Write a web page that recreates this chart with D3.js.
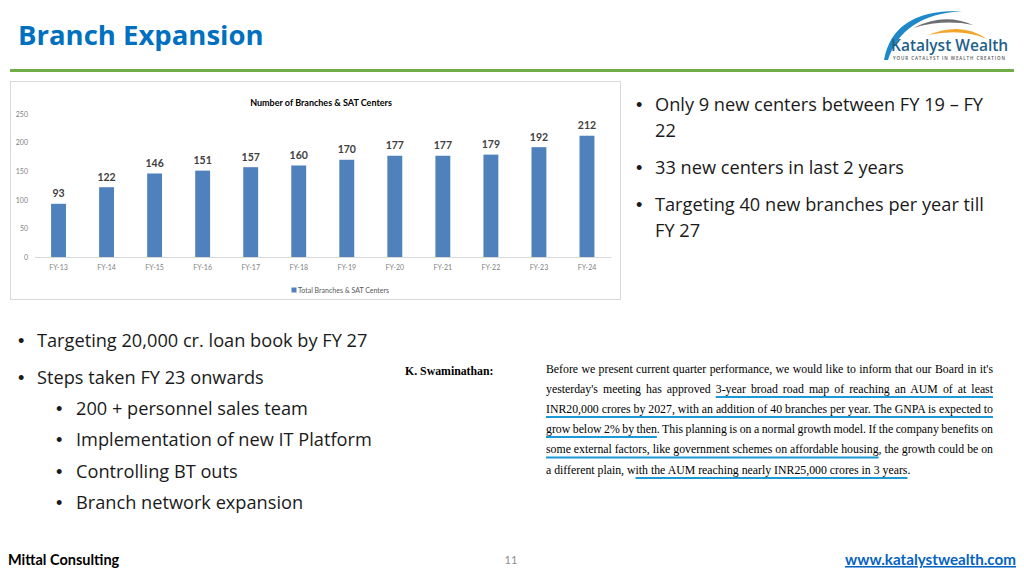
<!DOCTYPE html>
<html>
<head>
<meta charset="utf-8">
<script src="https://cdn.jsdelivr.net/npm/d3@7/dist/d3.min.js"></script>
<style>
  html, body { margin: 0; padding: 0; background: #fff; }
  svg { display: block; }
</style>
</head>
<body>
<svg id="slide" width="1024" height="575"></svg>
<script>
// ---------- data ----------
const categories = ["FY-13","FY-14","FY-15","FY-16","FY-17","FY-18","FY-19","FY-20","FY-21","FY-22","FY-23","FY-24"];
const branchValues = [93,122,146,151,157,160,170,177,177,179,192,212];
const yTicks = [0,50,100,150,200,250];
const chartTitle = "Number of Branches & SAT Centers";
const legendLabel = "Total Branches & SAT Centers";
const slideTitle = "Branch Expansion";
const rightBullets = [["Only 9 new centers between FY 19 \u2013 FY","22"],["33 new centers in last 2 years"],["Targeting 40 new branches per year till","FY 27"]];
const leftBullets = ["Targeting 20,000 cr. loan book by FY 27","Steps taken FY 23 onwards"];
const subBullets = ["200 + personnel sales team","Implementation of new IT Platform","Controlling BT outs","Branch network expansion"];
const quoteSpeaker = "K. Swaminathan:";
const quoteLines = [
  "Before we present current quarter performance, we would like to inform that our Board in it's",
  "yesterday's meeting has approved 3-year broad road map of reaching an AUM of at least",
  "INR20,000 crores by 2027, with an addition of 40 branches per year. The GNPA is expected to",
  "grow below 2% by then. This planning is on a normal growth model. If the company benefits on",
  "some external factors, like government schemes on affordable housing, the growth could be on",
  "a different plain, with the AUM reaching nearly INR25,000 crores in 3 years."
];
const quoteUnderlines = [
  [1, "3-year broad road map of reaching an AUM of at least"],
  [2, "INR20,000 crores by 2027, with an addition of 40 branches per year. The GNPA is expected to"],
  [3, "grow below 2% by then"],
  [4, "some external factors, like government schemes on affordable housing"],
  [5, "ith the AUM reaching nearly INR25,000 crores in 3 years"]
];

const svg = d3.select("#slide");
const sans = "'Open Sans', 'Noto Sans', sans-serif";
const calib = "Lato, 'Open Sans', sans-serif";
const serif = "'Liberation Serif', 'DejaVu Serif', serif";

// ---------- header ----------
svg.append("text").attr("x", 18).attr("y", 45)
  .attr("font-family", sans).attr("font-weight", 700).attr("font-size", 27.5)
  .attr("fill", "#0070C0").text(slideTitle);
svg.append("line").attr("x1", 10).attr("x2", 1014).attr("y1", 70.5).attr("y2", 70.5)
  .attr("stroke", "#70AD47").attr("stroke-width", 3);

// logo
const logo = svg.append("g");
logo.append("path").attr("d", "M884,60 Q893,9 962,11 Q902,15 888,60 Z").attr("fill", "#1E88C8");
logo.append("path").attr("d", "M913,28 Q944,12 973,25 Q944,19 913,28 Z").attr("fill", "#6D6E71");
logo.append("path").attr("d", "M928,35 Q962,21 987,39 Q962,28 928,35 Z").attr("fill", "#F2A52B");
logo.append("text").attr("x", 891).attr("y", 51)
  .attr("font-family", sans).attr("font-weight", 600).attr("font-size", 15.5)
  .attr("fill", "#1F5F8B").text("Katalyst Wealth");
logo.append("text").attr("x", 893).attr("y", 60)
  .attr("font-family", sans).attr("font-weight", 600).attr("font-size", 4.5)
  .attr("textLength", 112).attr("lengthAdjust", "spacing")
  .attr("fill", "#555").text("YOUR CATALYST IN WEALTH CREATION");

// ---------- chart ----------
svg.append("rect").attr("x", 10.5).attr("y", 81.5).attr("width", 610).attr("height", 218)
  .attr("fill", "#fff").attr("stroke", "#D9D9D9");

const x = d3.scaleBand().domain(categories).range([34.5, 611]).paddingInner(0.69).paddingOuter(0.345);
const y = d3.scaleLinear().domain([0, 250]).range([257, 114]);

svg.append("text").attr("x", 321).attr("y", 105.5).attr("text-anchor", "middle")
  .attr("font-family", calib).attr("font-weight", 700).attr("font-size", 9)
  .attr("fill", "#000").text(chartTitle);

const yAxis = svg.append("g").attr("transform", "translate(31,0)")
  .call(d3.axisLeft(y).tickValues(yTicks).tickSize(0).tickPadding(3));
yAxis.select(".domain").remove();
yAxis.selectAll("text").attr("font-family", calib).attr("font-size", 7).attr("fill", "#7F7F7F");

const xAxis = svg.append("g").attr("transform", "translate(0,257)")
  .call(d3.axisBottom(x).tickSize(0).tickPadding(8));
xAxis.select(".domain").attr("stroke", "#D9D9D9");
xAxis.selectAll("text").attr("font-family", calib).attr("font-size", 7).attr("fill", "#7F7F7F");

svg.append("g").selectAll("rect").data(branchValues).join("rect")
  .attr("x", (d, i) => x(categories[i])).attr("width", x.bandwidth())
  .attr("y", d => y(d)).attr("height", d => y(0) - y(d))
  .attr("fill", "#4F81BD");

svg.append("g").selectAll("text").data(branchValues).join("text")
  .attr("x", (d, i) => x(categories[i]) + x.bandwidth() / 2)
  .attr("y", d => y(d) - 6.5).attr("text-anchor", "middle")
  .attr("font-family", calib).attr("font-weight", 700).attr("font-size", 10.5)
  .attr("fill", "#404040").text(d => d);

svg.append("rect").attr("x", 291.5).attr("y", 287.5).attr("width", 5).attr("height", 5).attr("fill", "#4F81BD");
svg.append("text").attr("x", 298).attr("y", 292.5)
  .attr("font-family", calib).attr("font-size", 7).attr("fill", "#595959").text(legendLabel);

// ---------- bullets ----------
const bulletSize = 18.2;
function bullet(bx, tx, yc, lines, lineGap) {
  svg.append("text").attr("x", bx).attr("y", yc + 6.5).attr("font-family", "'Liberation Sans', Arial, sans-serif")
    .attr("font-size", bulletSize).attr("fill", "#1A1A1A").text("\u2022");
  lines.forEach((l, i) => {
    svg.append("text").attr("x", tx).attr("y", yc + 6.5 + i * lineGap).attr("font-family", sans)
      .attr("font-size", bulletSize).attr("fill", "#1A1A1A").text(l);
  });
}
const rightY = [104, 167, 204];
rightBullets.forEach((b, i) => bullet(636, 655, rightY[i], b, 26));
const leftY = [340, 377];
leftBullets.forEach((b, i) => bullet(18, 37, leftY[i], [b], 0));
const subY = [408, 439, 471, 502];
subBullets.forEach((b, i) => bullet(56, 76, subY[i], [b], 0));

// ---------- quote ----------
svg.append("text").attr("x", 405).attr("y", 375)
  .attr("font-family", serif).attr("font-weight", 700).attr("font-size", 11.8)
  .attr("fill", "#000").text(quoteSpeaker);
const qx = 546, qw = 447;
const rowYs = [373, 392.5, 412.5, 432.5, 453, 473.5];
const qNodes = quoteLines.map((l, i) => {
  const t = svg.append("text").attr("x", qx).attr("y", rowYs[i])
    .attr("font-family", serif).attr("font-size", 11.8).attr("fill", "#000")
    .text(l);
  if (i < quoteLines.length - 1) {
    const w = t.node().getComputedTextLength();
    const spaces = (l.match(/ /g) || []).length;
    t.style("word-spacing", ((qw - w) / spaces) + "px");
  }
  return t.node();
});
quoteUnderlines.forEach(([row, phrase]) => {
  const node = qNodes[row];
  const s = quoteLines[row].indexOf(phrase);
  const e = s + phrase.length - 1;
  const a = node.getExtentOfChar(s), b = node.getExtentOfChar(e);
  svg.append("line").attr("x1", a.x).attr("x2", b.x + b.width)
    .attr("y1", rowYs[row] + 4.5).attr("y2", rowYs[row] + 4.5)
    .attr("stroke", "#1B9AD6").attr("stroke-width", 2);
});

// ---------- footer ----------
svg.append("text").attr("x", 8).attr("y", 565)
  .attr("font-family", calib).attr("font-weight", 700).attr("font-size", 14.5)
  .attr("fill", "#000").text("Mittal Consulting");
svg.append("text").attr("x", 511).attr("y", 564).attr("text-anchor", "middle")
  .attr("font-family", calib).attr("font-size", 11).attr("fill", "#8C8C8C").text("11");
svg.append("text").attr("x", 1016).attr("y", 565).attr("text-anchor", "end")
  .attr("font-family", calib).attr("font-weight", 700).attr("font-size", 15.2)
  .attr("fill", "#0563C1").attr("text-decoration", "underline").text("www.katalystwealth.com");
</script>
</body>
</html>
